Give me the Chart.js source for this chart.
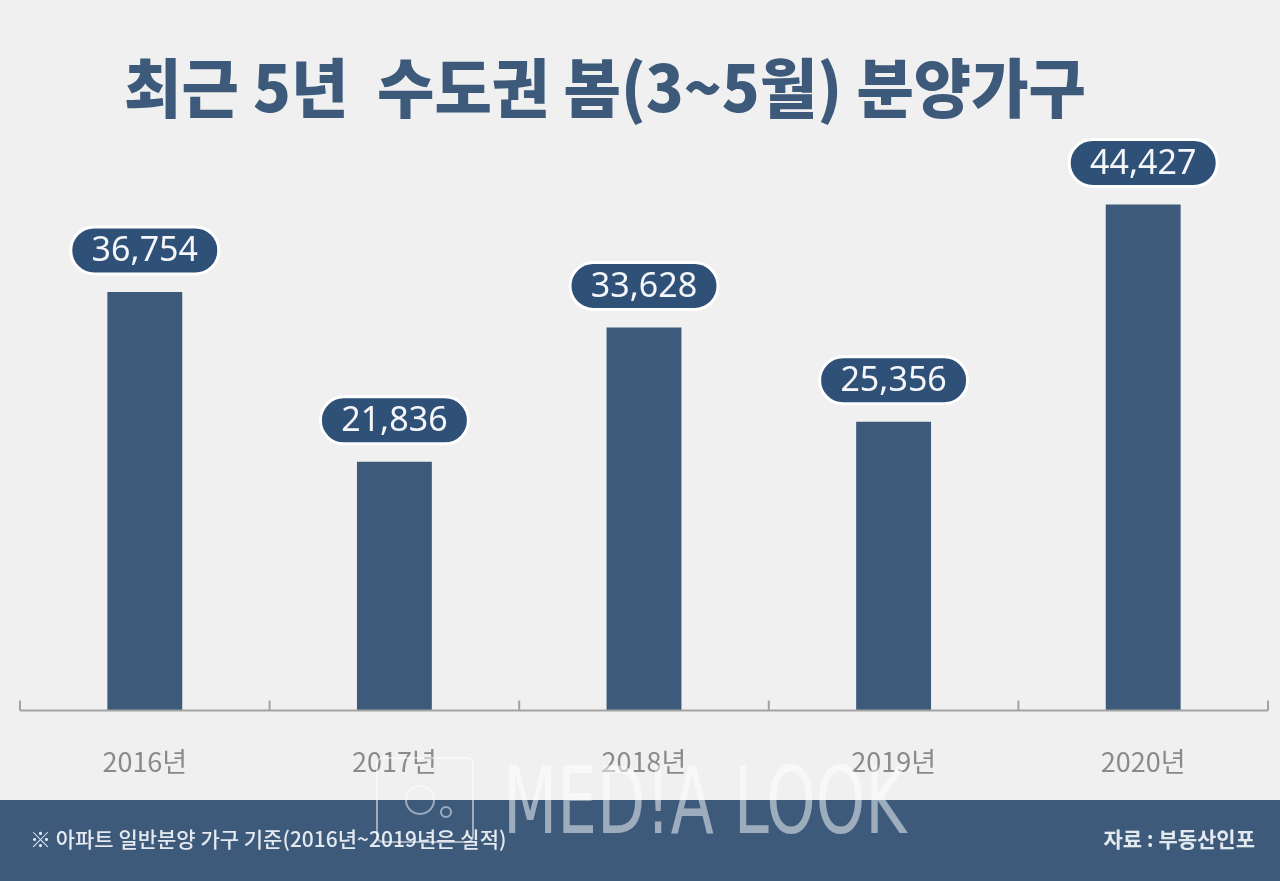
<!DOCTYPE html>
<html><head><meta charset="utf-8">
<script src="https://cdn.jsdelivr.net/npm/chart.js@4.4.0/dist/chart.umd.min.js"></script>
<style>html,body{margin:0;padding:0;background:#f0f0f0;overflow:hidden}canvas{display:block}</style>
</head><body>
<div style="width:1280px;height:881px;position:relative"><canvas id="c" width="1280" height="881"></canvas></div>
<script>
const titleText = '최근 5년  수도권 봄(3~5월) 분양가구';
const categories = ['2016년', '2017년', '2018년', '2019년', '2020년'];
const values = [36754, 21836, 33628, 25356, 44427];
const yMax = 50000;
const footNote = '※ 아파트 일반분양 가구 기준(2016년~2019년은 실적)';
const sourceText = '자료 : 부동산인포';

const BAR = '#3d5a7b', PILL = '#2f5077', BG = '#f0f0f0';

const decor = {
  id: 'decor',
  beforeDraw(chart) {
    const ctx = chart.ctx;
    ctx.save();
    ctx.fillStyle = BG; ctx.fillRect(0, 0, chart.width, chart.height);
    ctx.fillStyle = BAR; ctx.fillRect(0, 800, chart.width, 81);
    ctx.fillStyle = '#e4e9ef';
    ctx.font = '500 21px "Noto Sans CJK KR"';
    ctx.textBaseline = 'middle';
    ctx.textAlign = 'left';
    ctx.fillText(footNote, 30, 839, 505);
    ctx.textAlign = 'right';
    ctx.font = '700 21px "Noto Sans CJK KR"';
    ctx.fillText(sourceText, 1255, 839);
    // title
    ctx.fillStyle = BAR;
    ctx.textAlign = 'center';
    ctx.font = '900 64px "Noto Sans CJK KR"';
    ctx.fillText(titleText, 605, 88, 962);
    ctx.restore();
  },
  afterDatasetsDraw(chart) {
    const ctx = chart.ctx, a = chart.chartArea, xs = chart.scales.x;
    ctx.save();
    ctx.strokeStyle = '#a3a3a3'; ctx.lineWidth = 2;
    ctx.beginPath();
    ctx.moveTo(a.left, a.bottom); ctx.lineTo(a.right, a.bottom);
    const n = categories.length;
    const step = (xs.getPixelForValue(1) - xs.getPixelForValue(0));
    for (let i = 0; i <= n; i++) {
      const x = xs.getPixelForValue(0) - step / 2 + i * step;
      ctx.moveTo(x, a.bottom); ctx.lineTo(x, a.bottom - 10);
    }
    ctx.stroke();
    const meta = chart.getDatasetMeta(0);
    meta.data.forEach((bar, i) => {
      const w = 148, h = 47;
      const cx = bar.x, bottom = bar.y - 18, top = bottom - h;
      ctx.fillStyle = PILL;
      ctx.strokeStyle = '#ffffff'; ctx.lineWidth = 3;
      ctx.beginPath();
      ctx.roundRect(cx - w / 2, top, w, h, h / 2);
      ctx.fill(); ctx.stroke();
      ctx.fillStyle = '#f4f6fa';
      ctx.font = '400 34px "Noto Sans"';
      ctx.textAlign = 'center'; ctx.textBaseline = 'middle';
      ctx.fillText(values[i].toLocaleString('en-US'), cx, top + h / 2 + 1, 120);
    });
    ctx.restore();
  },
  afterDraw(chart) {
    const ctx = chart.ctx;
    ctx.save();
    ctx.globalAlpha = 0.5;
    ctx.strokeStyle = '#ffffff'; ctx.lineWidth = 2;
    ctx.beginPath(); ctx.roundRect(377, 758, 96, 84, 6); ctx.stroke();
    ctx.beginPath(); ctx.arc(420, 800, 14, 0, Math.PI * 2); ctx.stroke();
    ctx.beginPath(); ctx.arc(446, 812, 5, 0, Math.PI * 2); ctx.stroke();
    ctx.fillStyle = '#ffffff';
    ctx.font = '300 92px "DejaVu Sans Condensed"';
    ctx.textAlign = 'left'; ctx.textBaseline = 'alphabetic';
    ctx.save();
    ctx.translate(503, 833); ctx.scale(0.76, 1);
    ctx.fillText('MED!A LOOK', 0, 0);
    ctx.restore();
    ctx.restore();
  }
};

new Chart(document.getElementById('c'), {
  type: 'bar',
  data: {
    labels: categories,
    datasets: [{ data: values, backgroundColor: BAR, barPercentage: 0.3, categoryPercentage: 1 }]
  },
  options: {
    responsive: false,
    animation: false,
    devicePixelRatio: 1,
    layout: { padding: { left: 20, right: 12, top: 141, bottom: 68 } },
    plugins: { legend: { display: false }, tooltip: { enabled: false }, title: { display: false } },
    scales: {
      y: { display: false, min: 0, max: yMax },
      x: {
        grid: { display: false, drawTicks: false, tickLength: 0 },
        border: { display: false },
        ticks: { color: '#8a8a8a', font: { family: 'Noto Sans CJK KR', size: 27 }, padding: 35 }
      }
    }
  },
  plugins: [decor]
});
</script>
</body></html>
